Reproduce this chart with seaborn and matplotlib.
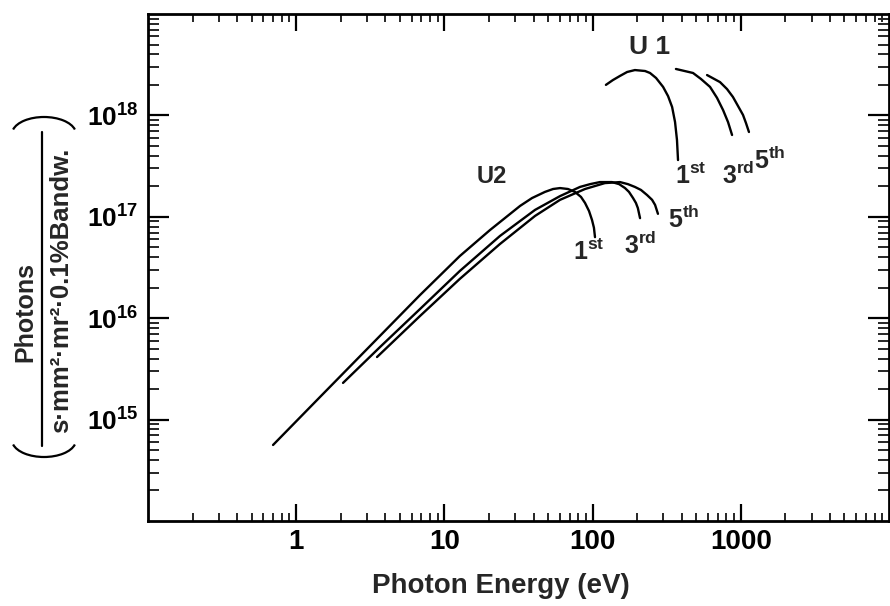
import numpy as np
import pandas as pd
import matplotlib
matplotlib.use("Agg")
import matplotlib.pyplot as plt
import matplotlib.ticker as mticker
from matplotlib.patches import Arc
from matplotlib.lines import Line2D
import seaborn as sns

# ---------------- data ----------------
u2_1st_energy = [0.698, 1.447, 3.15, 6.84, 12.7, 20.3, 32.4, 39.0, 47.7, 54.1, 60.3, 68.2, 76.0,
                 83.5, 88.9, 94.6, 99.1, 102.1, 103.8]
u2_1st_flux = [5.62e14, 1.67e15, 5.32e15, 1.69e16, 4.1e16, 7.4e16, 1.28e17, 1.53e17, 1.76e17, 1.88e17,
               1.92e17, 1.88e17, 1.76e17, 1.57e17, 1.37e17, 1.14e17, 9.3e16, 7.8e16, 6.3e16]

u2_3rd_energy = [2.07, 3.68, 6.84, 12.7, 23.7, 40.9, 60.3, 82.2, 96.2, 112, 135, 151, 165.5, 176,
                 187.5, 196, 202, 209]
u2_3rd_flux = [2.30e15, 5.20e15, 1.23e16, 2.92e16, 6.47e16, 1.17e17, 1.60e17, 1.97e17, 2.10e17, 2.20e17,
               2.20e17, 2.10e17, 1.92e17, 1.76e17, 1.53e17, 1.37e17, 1.22e17, 9.7e16]

u2_5th_energy = [3.51, 6.84, 12.7, 23.7, 40.9, 60.3, 88.9, 121, 153, 173, 193, 212, 233, 252, 264, 276]
u2_5th_flux = [4.14e15, 1.05e16, 2.44e16, 5.39e16, 1.02e17, 1.47e17, 1.88e17, 2.15e17, 2.20e17, 2.10e17,
               1.97e17, 1.84e17, 1.64e17, 1.47e17, 1.31e17, 1.07e17]

u1_1st_energy = [123, 137, 153, 171, 193, 226, 244, 268, 299, 323, 344, 360, 371, 377]
u1_1st_flux = [2.00e18, 2.23e18, 2.45e18, 2.68e18, 2.80e18, 2.74e18, 2.62e18, 2.34e18, 1.91e18,
               1.55e18, 1.21e18, 8.6e17, 5.72e17, 3.63e17]

u1_3rd_energy = [365, 476, 538, 620, 691, 759, 820, 873]
u1_3rd_flux = [2.87e18, 2.62e18, 2.29e18, 1.91e18, 1.49e18, 1.13e18, 8.6e17, 6.41e17]

u1_5th_energy = [592, 724, 807, 885, 957, 1035, 1084, 1135]
u1_5th_flux = [2.50e18, 2.13e18, 1.82e18, 1.52e18, 1.24e18, 1.01e18, 8.4e17, 6.86e17]

x_ticks = [1, 10, 100, 1000]
x_tick_labels = ["1", "10", "100", "1000"]
y_ticks = [1e15, 1e16, 1e17, 1e18]
y_tick_labels = [r"$\mathbf{10^{15}}$", r"$\mathbf{10^{16}}$", r"$\mathbf{10^{17}}$", r"$\mathbf{10^{18}}$"]

curves = {
    "U2 1st": (u2_1st_energy, u2_1st_flux),
    "U2 3rd": (u2_3rd_energy, u2_3rd_flux),
    "U2 5th": (u2_5th_energy, u2_5th_flux),
    "U1 1st": (u1_1st_energy, u1_1st_flux),
    "U1 3rd": (u1_3rd_energy, u1_3rd_flux),
    "U1 5th": (u1_5th_energy, u1_5th_flux),
}
df = pd.concat(
    [pd.DataFrame({"energy": e, "flux": f, "curve": name}) for name, (e, f) in curves.items()],
    ignore_index=True,
)

# ---------------- style ----------------
sns.set_theme(style="ticks")
plt.rcParams["font.family"] = ["Liberation Sans", "DejaVu Sans"]
plt.rcParams["mathtext.fontset"] = "custom"
plt.rcParams["mathtext.rm"] = "Liberation Sans"
plt.rcParams["mathtext.bf"] = "Liberation Sans:bold"
plt.rcParams["mathtext.it"] = "Liberation Sans:italic"

W, H = 890, 606
fig = plt.figure(figsize=(W / 100, H / 100), dpi=100)
fig.patch.set_facecolor("white")
ax = fig.add_axes([148 / W, 1 - 521 / H, (889 - 148) / W, (521 - 14) / H])
ax.set_facecolor("white")

sns.lineplot(data=df, x="energy", y="flux", units="curve", estimator=None, sort=False,
             color="black", linewidth=1.7, ax=ax, legend=False)

ax.set_xscale("log")
ax.set_yscale("log")
ax.set_xlim(0.1, 1e4)
ax.set_ylim(1e14, 1e19)

ax.set_xticks(x_ticks)
ax.set_xticklabels(x_tick_labels, fontsize=20, fontweight="bold")
ax.set_yticks(y_ticks)
ax.set_yticklabels(y_tick_labels, fontsize=19)
ax.xaxis.set_minor_locator(mticker.LogLocator(base=10, subs=np.arange(2, 10), numticks=20))
ax.yaxis.set_minor_locator(mticker.LogLocator(base=10, subs=np.arange(2, 10), numticks=20))
ax.xaxis.set_minor_formatter(mticker.NullFormatter())
ax.yaxis.set_minor_formatter(mticker.NullFormatter())

ax.tick_params(axis="x", which="major", direction="in", length=12, width=1.6,
               top=True, bottom=True, pad=6, colors="black")
ax.tick_params(axis="x", which="minor", direction="in", length=6, width=1.4,
               top=True, bottom=True)
ax.tick_params(axis="y", which="major", direction="in", length=15, width=1.6,
               left=True, right=True, pad=7, colors="black")
ax.tick_params(axis="y", which="minor", direction="in", length=8, width=1.4,
               left=True, right=True)
for sp in ax.spines.values():
    sp.set_linewidth(2.0)
    sp.set_color("black")
ax.set_xlabel("")
ax.set_ylabel("")

# ---------------- annotations ----------------
ax.text(244, 4.73e18, "U 1", fontsize=19, fontweight="bold", ha="center", va="center")
ax.text(20.9, 2.47e17, "U2", fontsize=17, fontweight="bold", ha="center", va="center")
lab_kw = dict(fontsize=18, ha="center", va="center")
ax.text(94.6, 4.5e16, r"$\mathbf{1^{st}}$", **lab_kw)
ax.text(209, 5.27e16, r"$\mathbf{3^{rd}}$", **lab_kw)
ax.text(414, 9.5e16, r"$\mathbf{5^{th}}$", **lab_kw)
ax.text(461, 2.52e17, r"$\mathbf{1^{st}}$", **lab_kw)
ax.text(957, 2.58e17, r"$\mathbf{3^{rd}}$", **lab_kw)
ax.text(1574, 3.63e17, r"$\mathbf{5^{th}}$", **lab_kw)

# x label
fig.text(501 / W, 1 - 586 / H, "Photon Energy (eV)", fontsize=20, fontweight="bold",
         ha="center", va="center")

# y label: fraction in large parentheses
fig.text(25 / W, 1 - 312 / H, "Photons", rotation=90, fontsize=18, fontweight="bold",
         ha="center", va="center")
fig.text(61 / W, 1 - 290 / H, "s·mm²·mr²·0.1%Bandw.", rotation=90, fontsize=18.5,
         fontweight="bold", ha="center", va="center")
fig.add_artist(Line2D([42 / W, 42 / W], [1 - 132 / H, 1 - 446 / H], transform=fig.transFigure,
                      color="black", linewidth=1.6))
fig.add_artist(Arc((44 / W, 1 - 134 / H), 64 / W, 34 / H, theta1=12, theta2=168,
                   transform=fig.transFigure, color="black", linewidth=1.6))
fig.add_artist(Arc((44 / W, 1 - 440 / H), 64 / W, 34 / H, theta1=192, theta2=348,
                   transform=fig.transFigure, color="black", linewidth=1.6))

fig.savefig("out.png", dpi=100, facecolor="white")
